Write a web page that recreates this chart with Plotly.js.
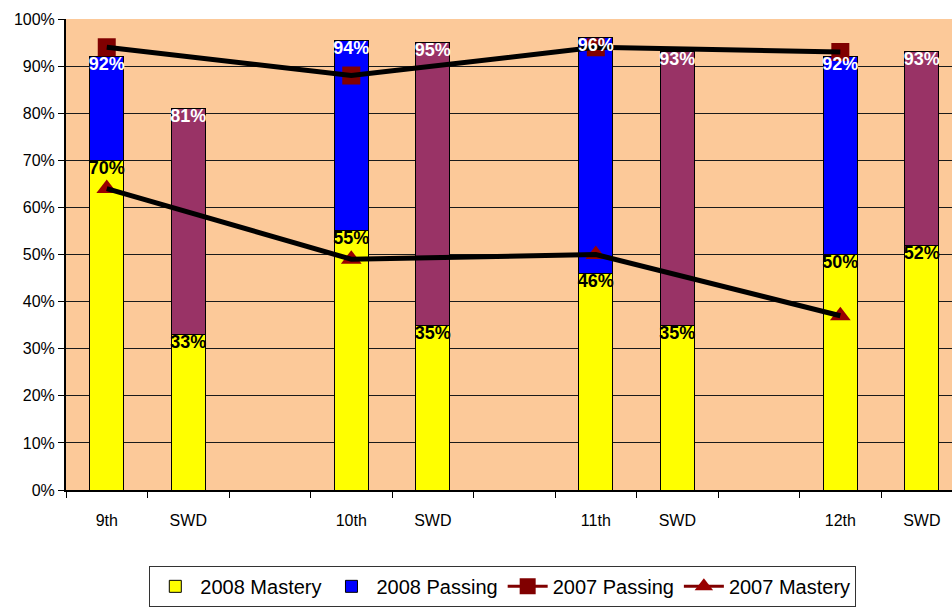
<!DOCTYPE html>
<html>
<head>
<meta charset="utf-8">
<script src="https://cdn.plot.ly/plotly-3.0.1.min.js"></script>
<style>html,body{margin:0;padding:0;background:#fff;}#chart{width:952px;height:610px;}</style>
</head>
<body>
<div id="chart"></div>
<script>
// Category slots (blank slots are the gaps between grade pairs)
const categories = ["9th", "SWD", "", "10th", "SWD", "", "11th", "SWD", "", "12th", "SWD"];
const barSlots = [0, 1, 3, 4, 6, 7, 9, 10];
const gradeSlots = [0, 3, 6, 9];

// 2008 values (percent)
const mastery2008 = [70, 33, 55, 35, 46, 35, 50, 52];
const passingTotal2008 = [92, 81, 95.5, 95, 96, 93, 92, 93];
const masteryLabels = ["70%", "33%", "55%", "35%", "46%", "35%", "50%", "52%"];
const passingLabels = ["92%", "81%", "94%", "95%", "96%", "93%", "92%", "93%"];
const isSWD = [false, true, false, true, false, true, false, true];

// 2007 values (percent), grade rows only
const passing2007 = [94, 88, 94, 93];
const mastery2007 = [64, 49, 50, 37];

const passingSegment = passingTotal2008.map((t, i) => t - mastery2008[i]);
const passingColors = isSWD.map(s => s ? "#993366" : "#0000FF");

const baseFont = "Liberation Sans, Arial, sans-serif";

const traces = [
  {
    type: "bar", name: "2008 Mastery", x: barSlots, y: mastery2008,
    marker: {color: "#FFFF00", line: {color: "#000000", width: 1}},
    width: 0.42, hoverinfo: "skip"
  },
  {
    type: "bar", name: "2008 Passing", x: barSlots, y: passingSegment,
    marker: {color: passingColors, line: {color: "#000000", width: 1}},
    width: 0.42, hoverinfo: "skip"
  },
  {
    type: "scatter", mode: "lines+markers", name: "2007 Passing", x: gradeSlots, y: passing2007,
    line: {color: "#800000", width: 3},
    marker: {symbol: "square", size: 18, color: "#800000"},
    hoverinfo: "skip"
  },
  {
    type: "scatter", mode: "lines+markers", name: "2007 Mastery", x: gradeSlots, y: mastery2007,
    line: {color: "#800000", width: 3},
    marker: {symbol: "triangle-up", size: 18, color: "#990000"},
    hoverinfo: "skip"
  },
  {
    type: "scatter", mode: "lines", x: gradeSlots, y: passing2007, showlegend: false,
    line: {color: "#000000", width: 5}, hoverinfo: "skip"
  },
  {
    type: "scatter", mode: "lines", x: gradeSlots, y: mastery2007, showlegend: false,
    line: {color: "#000000", width: 5}, hoverinfo: "skip"
  },
  {
    type: "scatter", mode: "text", x: barSlots, y: mastery2008, text: masteryLabels,
    textposition: "bottom center", showlegend: false, hoverinfo: "skip",
    textfont: {family: baseFont, size: 18, color: "#000000", weight: "bold"}
  },
  {
    type: "scatter", mode: "text", x: barSlots, y: passingTotal2008, text: passingLabels,
    textposition: "bottom center", showlegend: false, hoverinfo: "skip",
    textfont: {family: baseFont, size: 18, color: "#FFFFFF", weight: "bold"}
  }
];

const boundaries = [];
for (let i = -0.5; i <= categories.length - 0.5; i += 1) boundaries.push(i);

const layout = {
  width: 952, height: 610,
  margin: {l: 66, r: 0, t: 19, b: 120},
  paper_bgcolor: "#FFFFFF",
  plot_bgcolor: "#FCC999",
  barmode: "stack",
  showlegend: true,
  font: {family: baseFont, color: "#000000"},
  xaxis: {
    range: [-0.5, 10.37],
    tickmode: "array",
    tickvals: barSlots,
    ticktext: barSlots.map(i => categories[i]),
    ticks: "outside", ticklen: 15, tickcolor: "rgba(0,0,0,0)",
    tickfont: {family: baseFont, size: 16, color: "#000000"},
    showgrid: false, zeroline: false,
    showline: true, linecolor: "#000000", linewidth: 2,
    minor: {tickmode: "array", tickvals: boundaries, ticks: "outside", ticklen: 6, tickcolor: "#000000", tickwidth: 1, showgrid: false}
  },
  yaxis: {
    range: [0, 100], dtick: 10, ticksuffix: "%",
    ticks: "outside", ticklen: 6, tickcolor: "#000000",
    tickfont: {family: baseFont, size: 16, color: "#000000"},
    showgrid: true, gridcolor: "#1a1a1a", gridwidth: 1,
    zeroline: false, showline: true, linecolor: "#000000", linewidth: 2
  },
  legend: {
    orientation: "h", traceorder: "normal",
    x: 0.493, xanchor: "center", y: -0.161, yanchor: "top",
    bgcolor: "#FFFFFF", bordercolor: "#333333", borderwidth: 1,
    font: {family: baseFont, size: 20, color: "#000000"},
    itemwidth: 40
  }
};

Plotly.newPlot("chart", traces, layout, {staticPlot: true, displayModeBar: false});
</script>
</body>
</html>
